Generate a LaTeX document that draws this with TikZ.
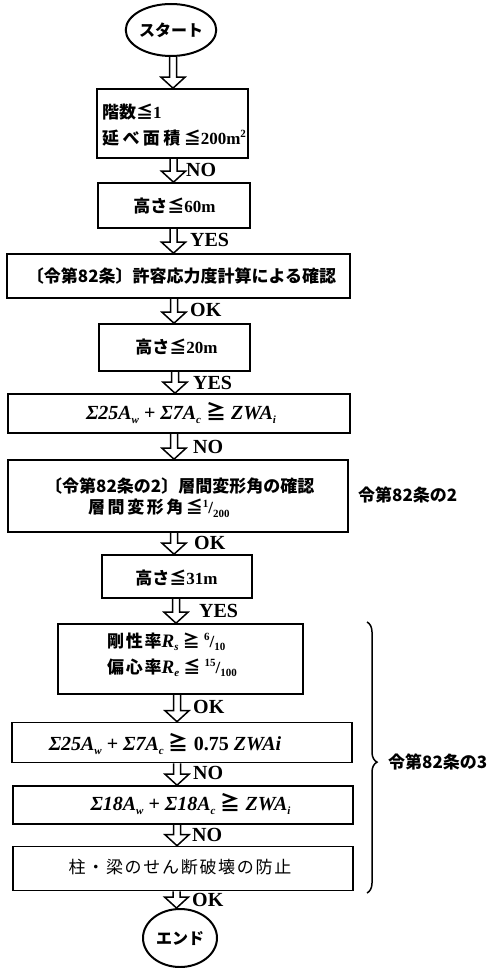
\documentclass[tikz,border=0pt]{standalone}
\usepackage{fontspec}
\setmainfont{Liberation Serif}
\newfontfamily\jp{Noto Sans CJK JP}
\newfontfamily\jpw{Noto Sans CJK JP}[LetterSpace=20]
\newfontfamily\jpv{Noto Sans CJK JP}[LetterSpace=15]
\newfontfamily\jpn{Noto Sans CJK JP}[LetterSpace=10]
\usetikzlibrary{shapes.geometric,decorations.pathreplacing,calc}
\newcommand\sbs[1]{\raisebox{-3.5pt}{\fontsize{11}{11}\selectfont #1}}
\newcommand\sps[1]{\raisebox{6.5pt}{\fontsize{11}{11}\selectfont #1}}
\newcommand\harr[3]{\draw[hollow] let \p1=(#1.south), \p2=(#2.north) in
  (#3pt-3.5pt,\y1) -- (#3pt-3.5pt,\y2+11pt) -- (#3pt-12pt,\y2+11pt) -- (#3pt,\y2)
  -- (#3pt+12pt,\y2+11pt) -- (#3pt+3.5pt,\y2+11pt) -- (#3pt+3.5pt,\y1);}
\tikzset{
  box/.style={draw, line width=1.6pt, inner sep=0pt},
  term/.style={draw, ellipse, line width=2pt, inner sep=0pt, font=\fontsize{16}{18}\selectfont\bfseries\jp},
  txt/.style={inner sep=0pt, font=\fontsize{17}{20}\selectfont\bfseries},
  mtxt/.style={inner sep=0pt, font=\fontsize{20}{22}\selectfont\bfseries},
  lab/.style={inner sep=0pt, anchor=west, font=\fontsize{20}{22}\selectfont\bfseries},
  hollow/.style={draw, line width=1.5pt, line join=miter},
  brc/.style={draw, line width=1.5pt, decorate, decoration={brace, amplitude=10pt, aspect=0.517}},
}
\begin{document}
\begin{tikzpicture}[x=1pt,y=-1pt]
\useasboundingbox (0,0) rectangle (490,968);
% terminals
\node[term, minimum width=82pt, minimum height=52pt] (s) at (171,30) {スタート};
\node[term, minimum width=74pt, minimum height=58pt] (e) at (180,938) {エンド};
% boxes
\node[box, minimum width=151pt, minimum height=69pt] (b1) at (172.5,123.5) {};
\node[box, minimum width=152pt, minimum height=45pt] (b2) at (174,205.5) {};
\node[box, minimum width=343pt, minimum height=44pt] (b3) at (178.5,276) {};
\node[box, minimum width=151pt, minimum height=47pt] (b4) at (174.5,347.5) {};
\node[box, minimum width=342pt, minimum height=39pt] (b5) at (179,413.5) {};
\node[box, minimum width=340pt, minimum height=72pt] (b6) at (178,496) {};
\node[box, minimum width=150pt, minimum height=43pt] (b7) at (177,576.5) {};
\node[box, minimum width=245pt, minimum height=70pt] (b8) at (180.5,659) {};
\node[box, minimum width=340pt, minimum height=40pt] (b9) at (182,742.5) {};
\node[box, minimum width=340pt, minimum height=38pt] (b10) at (183,805) {};
\node[box, minimum width=340pt, minimum height=44pt] (b11) at (183,868.5) {};
% texts
\node[txt, anchor=west] (t1a) at (102,112) {{\jp 階数≦}1};
\node[txt, anchor=west] (t1b) at (102,138) {{\jpw 延べ面積≦}200m\sps{2}};
\node[txt] (t2) at (174.5,206) {{\jp 高さ≦}60m};
\node[txt] (t3) at (181.5,276) {\jp 〔令第82条〕許容応力度計算による確認};
\node[txt] (t4) at (176.5,347) {{\jp 高さ≦}20m};
\node[mtxt] (t5) at (181,413) {{\itshape Σ25A}\sbs{\itshape w} + {\itshape Σ7A}\sbs{\itshape c} {\jp ≧} {\itshape ZWA}\sbs{\itshape i}};
\node[txt, anchor=west] (t6a) at (45,486) {\jp 〔令第82条の2〕層間変形角の確認};
\node[txt, anchor=west] (t6b) at (88,508) {{\jpv 層間変形角≦}\sps{1}/\sbs{200}};
\node[txt] (t7) at (176.5,578) {{\jp 高さ≦}31m};
\node[txt, anchor=west] (t8a) at (107,642) {{\jpn 剛性率}{\fontsize{19}{20}\selectfont\itshape R}\sbs{\itshape s} {\jp ≧} \sps{6}/\sbs{10}};
\node[txt, anchor=west] (t8b) at (107,668) {{\jpn 偏心率}{\fontsize{19}{20}\selectfont\itshape R}\sbs{\itshape e} {\jp ≦} \sps{15}/\sbs{100}};
\node[mtxt] (t9) at (165,744) {{\itshape Σ25A}\sbs{\itshape w} + {\itshape Σ7A}\sbs{\itshape c} {\jp ≧} 0.75 {\itshape ZWAi}};
\node[mtxt] (t10) at (190.5,804) {{\itshape Σ18A}\sbs{\itshape w} + {\itshape Σ18A}\sbs{\itshape c} {\jp ≧} {\itshape ZWA}\sbs{\itshape i}};
\node[txt] (t11) at (180,867) {\jpn\mdseries 柱・梁のせん断破壊の防止};
% arrows
\harr{s}{b1}{173}
\harr{b1}{b2}{173.5}
\harr{b2}{b3}{173.5}
\harr{b3}{b4}{174}
\harr{b4}{b5}{175}
\harr{b5}{b6}{174}
\harr{b6}{b7}{174}
\harr{b7}{b8}{176}
\harr{b8}{b9}{177}
\harr{b9}{b10}{177}
\harr{b10}{b11}{177}
\harr{b11}{e}{176.5}
% arrow labels
\node[lab] (l1) at (186,170) {NO};
\node[lab] (l2) at (190,240) {YES};
\node[lab] (l3) at (190,310) {OK};
\node[lab] (l4) at (193,383) {YES};
\node[lab] (l5) at (193,447) {NO};
\node[lab] (l6) at (194,543) {OK};
\node[lab] (l7) at (199,611) {YES};
\node[lab] (l8) at (193,707) {OK};
\node[lab] (l9) at (193,773) {NO};
\node[lab] (l10) at (192,835) {NO};
\node[lab] (l11) at (192,900) {OK};
% side notes
\coordinate (bt) at (367,622);
\coordinate (bb) at (367,893);
\draw[brc] (bt) -- (bb);
\node[txt, anchor=west] (n2) at (358,495) {\jp 令第82条の2};
\node[txt, anchor=west] (n3) at (388,762) {\jp 令第82条の3};
\end{tikzpicture}
\end{document}
